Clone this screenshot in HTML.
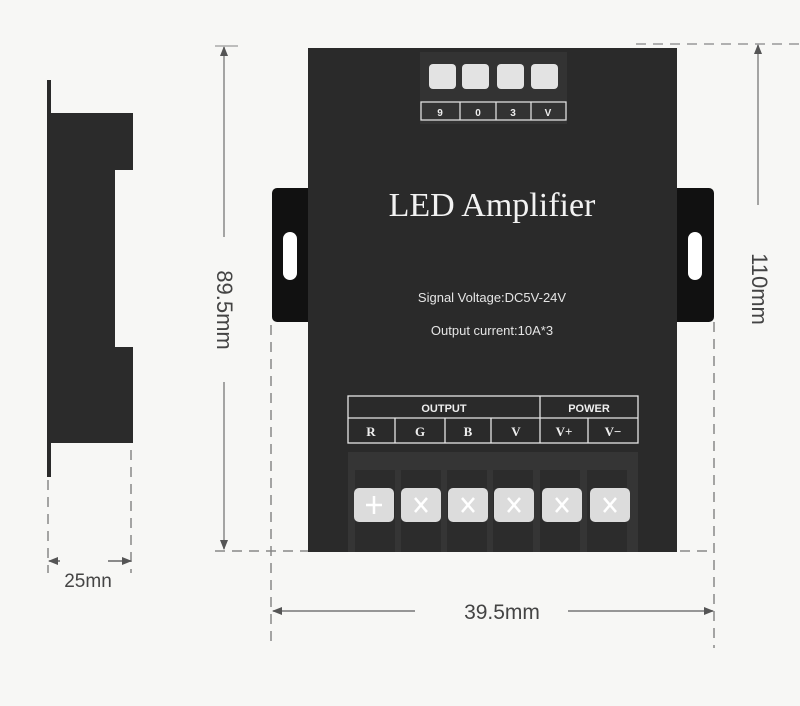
<!DOCTYPE html>
<html><head><meta charset="utf-8"><style>
html,body{margin:0;padding:0;background:#f7f7f5;}
svg{display:block;}
</style></head><body>
<svg width="800" height="706" viewBox="0 0 800 706" xmlns="http://www.w3.org/2000/svg" font-family="Liberation Sans, sans-serif">
<rect width="800" height="706" fill="#f7f7f5"/>
<defs>
<marker id="a" markerWidth="10" markerHeight="8" refX="9" refY="4" orient="auto" markerUnits="userSpaceOnUse"><path d="M0,0 L10,4 L0,8 z" fill="#555"/></marker>
</defs>
<!-- side view -->
<rect x="47" y="80" width="4" height="397" fill="#2a2a2a"/>
<path d="M50,113 H133 V170 H115 V347 H133 V443 H50 Z" fill="#2b2b2b"/>
<g stroke="#888" stroke-width="1.5" stroke-dasharray="10,7" fill="none">
<line x1="48" y1="480" x2="48" y2="573"/>
<line x1="131" y1="450" x2="131" y2="573"/>
</g>
<line x1="60" y1="561" x2="49" y2="561" stroke="#666" stroke-width="1.5" marker-end="url(#a)"/>
<line x1="108" y1="561" x2="131" y2="561" stroke="#666" stroke-width="1.5" marker-end="url(#a)"/>
<text x="88" y="587" font-size="19" fill="#444" text-anchor="middle">25mn</text>
<!-- 89.5 dim -->
<line x1="224" y1="237" x2="224" y2="47" stroke="#888" stroke-width="1.5" marker-end="url(#a)"/>
<line x1="224" y1="382" x2="224" y2="549" stroke="#888" stroke-width="1.5" marker-end="url(#a)"/>
<line x1="215" y1="46" x2="238" y2="46" stroke="#aaa" stroke-width="1.5"/>
<text transform="translate(217,310) rotate(90)" font-size="22" fill="#444" text-anchor="middle">89.5mm</text>
<line x1="215" y1="551" x2="310" y2="551" stroke="#888" stroke-width="1.5" stroke-dasharray="10,7"/>
<!-- tabs -->
<rect x="272" y="188" width="44" height="134" rx="5" fill="#111"/>
<rect x="283" y="232" width="14" height="48" rx="7" fill="#fff"/>
<rect x="670" y="188" width="44" height="134" rx="5" fill="#111"/>
<rect x="688" y="232" width="14" height="48" rx="7" fill="#fff"/>
<!-- body -->
<rect x="308" y="48" width="369" height="504" fill="#2a2a2a"/>
<!-- top connector -->
<rect x="420" y="52" width="147" height="72" fill="#333"/>
<g fill="#e3e3e3">
<rect x="429" y="64" width="27" height="25" rx="4"/><rect x="462" y="64" width="27" height="25" rx="4"/>
<rect x="497" y="64" width="27" height="25" rx="4"/><rect x="531" y="64" width="27" height="25" rx="4"/>
</g>
<g stroke="#ddd" stroke-width="1.3" fill="none">
<rect x="421" y="102" width="145" height="18"/>
<line x1="460" y1="102" x2="460" y2="120"/><line x1="496" y1="102" x2="496" y2="120"/><line x1="531" y1="102" x2="531" y2="120"/>
</g>
<g fill="#eee" font-size="10" font-weight="bold" text-anchor="middle">
<text x="440" y="116">9</text><text x="478" y="116">0</text><text x="513" y="116">3</text><text x="548" y="116">V</text>
</g>
<text x="492" y="216" font-family="Liberation Serif, serif" font-size="34" fill="#f2f2f2" text-anchor="middle">LED Amplifier</text>
<text x="492" y="302" font-size="13" fill="#e5e5e5" text-anchor="middle">Signal Voltage:DC5V-24V</text>
<text x="492" y="335" font-size="13" fill="#e5e5e5" text-anchor="middle">Output current:10A*3</text>
<!-- table -->
<g stroke="#e5e5e5" stroke-width="1.3" fill="none">
<rect x="348" y="396" width="290" height="47"/>
<line x1="348" y1="418" x2="638" y2="418"/>
<line x1="540" y1="396" x2="540" y2="443"/>
<line x1="395" y1="418" x2="395" y2="443"/><line x1="445" y1="418" x2="445" y2="443"/>
<line x1="491" y1="418" x2="491" y2="443"/><line x1="588" y1="418" x2="588" y2="443"/>
</g>
<g fill="#eee" font-size="11" font-weight="bold" text-anchor="middle">
<text x="444" y="412">OUTPUT</text><text x="589" y="412">POWER</text>
</g>
<g fill="#eee" font-size="13" font-weight="bold" text-anchor="middle" font-family="Liberation Serif, serif">
<text x="371" y="436">R</text><text x="420" y="436">G</text><text x="468" y="436">B</text><text x="516" y="436">V</text><text x="564" y="436">V+</text><text x="613" y="436">V−</text>
</g>
<!-- terminal block -->
<rect x="348" y="452" width="290" height="100" fill="#353535"/>
<g fill="#2c2c2c">
<rect x="355" y="470" width="40" height="82"/><rect x="401" y="470" width="40" height="82"/><rect x="447" y="470" width="40" height="82"/>
<rect x="493" y="470" width="40" height="82"/><rect x="540" y="470" width="40" height="82"/><rect x="587" y="470" width="40" height="82"/>
</g>
<g fill="#dcdcdc">
<rect x="354" y="488" width="40" height="34" rx="5"/><rect x="401" y="488" width="40" height="34" rx="5"/><rect x="448" y="488" width="40" height="34" rx="5"/>
<rect x="494" y="488" width="40" height="34" rx="5"/><rect x="542" y="488" width="40" height="34" rx="5"/><rect x="590" y="488" width="40" height="34" rx="5"/>
</g>
<g stroke="#fff" stroke-width="2.5">
<path d="M374,496 v18 M366,505 h16"/><path d="M415,498 l12,14 M427,498 l-12,14"/><path d="M462,498 l12,14 M474,498 l-12,14"/>
<path d="M508,498 l12,14 M520,498 l-12,14"/><path d="M556,498 l12,14 M568,498 l-12,14"/><path d="M604,498 l12,14 M616,498 l-12,14"/>
</g>
<!-- right dims -->
<line x1="636" y1="44" x2="800" y2="44" stroke="#999" stroke-width="1.5" stroke-dasharray="10,7"/>
<line x1="758" y1="205" x2="758" y2="45" stroke="#888" stroke-width="1.5" marker-end="url(#a)"/>
<text transform="translate(752,289) rotate(90)" font-size="22" fill="#444" text-anchor="middle">110mm</text>
<g stroke="#888" stroke-width="1.5" stroke-dasharray="10,7" fill="none">
<line x1="714" y1="322" x2="714" y2="648"/>
<line x1="271" y1="325" x2="271" y2="648"/>
<line x1="680" y1="551" x2="712" y2="551"/>
</g>
<line x1="415" y1="611" x2="273" y2="611" stroke="#777" stroke-width="1.5" marker-end="url(#a)"/>
<line x1="568" y1="611" x2="713" y2="611" stroke="#777" stroke-width="1.5" marker-end="url(#a)"/>
<text x="502" y="619" font-size="21" fill="#444" text-anchor="middle">39.5mm</text>
</svg>
</body></html>
